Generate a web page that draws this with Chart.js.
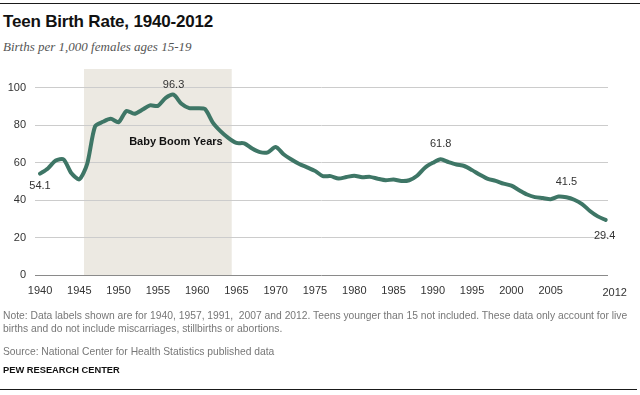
<!DOCTYPE html>
<html>
<head>
<meta charset="utf-8">
<script src="https://cdn.jsdelivr.net/npm/chart.js@4/dist/chart.umd.min.js"></script>
<style>
  body { margin: 0; background: #fff; }
  #wrap { position: relative; width: 640px; height: 395px; overflow: hidden; }
  #Chart { position: absolute; left: 0; top: 0; }
  .rule { position: absolute; left: 0; height: 1px; background: #1a1a1a; }
  .Title { position: absolute; left: 3px; top: 12px; font: bold 17px "Liberation Sans", Arial, sans-serif; color: #111; letter-spacing: -0.2px; }
  .Subtitle { position: absolute; left: 3px; top: 39px; font: italic 13px "Liberation Serif", serif; color: #555; }
  .Note { position: absolute; left: 3px; font: 10.3px "Liberation Sans Narrow", "Arial Narrow", "Liberation Sans", sans-serif; color: #777; line-height: 13px; white-space: nowrap; }
  .Credit { position: absolute; left: 3px; top: 365px; font: bold 9.3px "Liberation Sans Narrow", "Arial Narrow", "Liberation Sans", sans-serif; color: #111; }
</style>
</head>
<body>
<div id="wrap">
  <div class="rule" style="top:3px;width:640px"></div>
  <div class="Title">Teen Birth Rate, 1940-2012</div>
  <div class="Subtitle">Births per 1,000 females ages 15-19</div>
  <canvas id="Chart" width="640" height="395"></canvas>
  <div class="Note" style="top:309px">Note: Data labels shown are for 1940, 1957, 1991,&nbsp; 2007 and 2012. Teens younger than 15 not included. These data only account for live<br>births and do not include miscarriages, stillbirths or abortions.</div>
  <div class="Note" style="top:345px">Source: National Center for Health Statistics published data</div>
  <div class="Credit">PEW RESEARCH CENTER</div>
  <div class="rule" style="top:389px;width:637px"></div>
</div>
<script>
const years = [
  1940, 1941, 1942, 1943, 1944, 1945, 1946, 1947, 1948, 1949,
  1950, 1951, 1952, 1953, 1954, 1955, 1956, 1957, 1958, 1959,
  1960, 1961, 1962, 1963, 1964, 1965, 1966, 1967, 1968, 1969,
  1970, 1971, 1972, 1973, 1974, 1975, 1976, 1977, 1978, 1979,
  1980, 1981, 1982, 1983, 1984, 1985, 1986, 1987, 1988, 1989,
  1990, 1991, 1992, 1993, 1994, 1995, 1996, 1997, 1998, 1999,
  2000, 2001, 2002, 2003, 2004, 2005, 2006, 2007, 2008, 2009,
  2010, 2011, 2012,
];

const birthRate = [
  54.1, 56.9, 61.1, 61.7, 54.3, 51.1, 59.3, 79.3, 81.8, 83.4,
  81.6, 87.6, 86.1, 88.2, 90.6, 90.3, 94.6, 96.3, 91.4, 89.1,
  89.1, 88.6, 81.4, 76.7, 73.1, 70.5, 70.3, 67.5, 65.6, 65.5,
  68.3, 64.5, 61.7, 59.3, 57.5, 55.6, 52.8, 52.8, 51.5, 52.3,
  53.0, 52.2, 52.4, 51.4, 50.6, 51.0, 50.2, 50.6, 53.0, 57.3,
  59.9, 61.8, 60.3, 59.0, 58.2, 56.0, 53.5, 51.3, 50.3, 48.8,
  47.7, 45.3, 43.0, 41.6, 41.1, 40.5, 41.9, 41.5, 40.2, 37.9,
  34.2, 31.3, 29.4,
];

const xTickYears = [1940, 1945, 1950, 1955, 1960, 1965, 1970, 1975, 1980, 1985, 1990, 1995, 2000, 2005, 2012];
const yTicks = [0, 20, 40, 60, 80, 100];
const labelYears = [1940, 1957, 1991, 2007, 2012];
const babyBoom = [1945.6, 1964.4];
const babyBoomLabel = "Baby Boom Years";

const LINE_COLOR = "#3e7666";
const SHADE_COLOR = "#ece9e2";
const TEXT_FONT = '"Liberation Sans", Arial, sans-serif';

// shaded band behind the grid
const shadePlugin = {
  id: "shade",
  beforeDraw(chart) {
    const { ctx, scales: { x, y } } = chart;
    const left = x.getPixelForValue(babyBoom[0]);
    const right = x.getPixelForValue(babyBoom[1]);
    const top = y.getPixelForValue(y.max);
    const bottom = y.getPixelForValue(0);
    ctx.save();
    ctx.fillStyle = SHADE_COLOR;
    ctx.fillRect(left, top, right - left, bottom - top);
    ctx.restore();
  },
};

// labels on top: year ticks, data labels, band label
const labelsPlugin = {
  id: "labels",
  afterDraw(chart) {
    const { ctx, scales: { x, y } } = chart;
    const bottom = y.getPixelForValue(0);
    ctx.save();
    ctx.font = `11px ${TEXT_FONT}`;
    ctx.fillStyle = "#333";
    ctx.textAlign = "center";
    ctx.textBaseline = "middle";

    xTickYears.forEach((yr) => {
      const last = yr === xTickYears[xTickYears.length - 1];
      ctx.fillText(String(yr), x.getPixelForValue(yr) + (last ? 9 : 0), bottom + (last ? 18 : 16));
    });

    const offsets = { 1940: 12, 1957: -10, 1991: -15, 2007: -15, 2012: 16 };
    labelYears.forEach((yr) => {
      const i = years.indexOf(yr);
      const px = x.getPixelForValue(yr) + (yr === 2012 ? -1 : 0);
      const py = y.getPixelForValue(birthRate[i]) + offsets[yr];
      ctx.fillText(birthRate[i].toFixed(1), px, py);
    });

    ctx.font = `bold 11px ${TEXT_FONT}`;
    ctx.fillStyle = "#111";
    ctx.fillText(babyBoomLabel, x.getPixelForValue(1957.3), y.getPixelForValue(71.3));
    ctx.restore();
  },
};

new Chart(document.querySelector("#Chart"), {
  type: "line",
  data: {
    datasets: [
      {
        data: years.map((yr, i) => ({ x: yr, y: birthRate[i] })),
        borderColor: LINE_COLOR,
        borderWidth: 4,
        pointRadius: 0,
        tension: 0.25,
        fill: false,
        borderCapStyle: "round",
        borderJoinStyle: "round",
      },
    ],
  },
  options: {
    responsive: false,
    animation: false,
    layout: {
      padding: { top: 69, left: 0, right: 32, bottom: 120 },
    },
    plugins: {
      legend: { display: false },
      tooltip: { enabled: false },
    },
    scales: {
      x: {
        type: "linear",
        min: 1939.36,
        max: 2012.3,
        grid: { display: false },
        border: { display: false },
        ticks: { display: false },
        afterFit(scale) {
          scale.height = 0;
        },
      },
      y: {
        min: 0,
        max: 110,
        afterBuildTicks(scale) {
          scale.ticks = yTicks.map((value) => ({ value }));
        },
        afterFit(scale) {
          scale.width = 35;
        },
        border: { display: false },
        grid: {
          drawTicks: false,
          color: (ctx) => (ctx.tick && ctx.tick.value === 0 ? "#8a8a8a" : "#cccccc"),
          lineWidth: 1,
        },
        ticks: {
          padding: 9,
          color: "#333",
          font: { family: TEXT_FONT, size: 11 },
        },
      },
    },
  },
  plugins: [shadePlugin, labelsPlugin],
});
</script>
</body>
</html>
